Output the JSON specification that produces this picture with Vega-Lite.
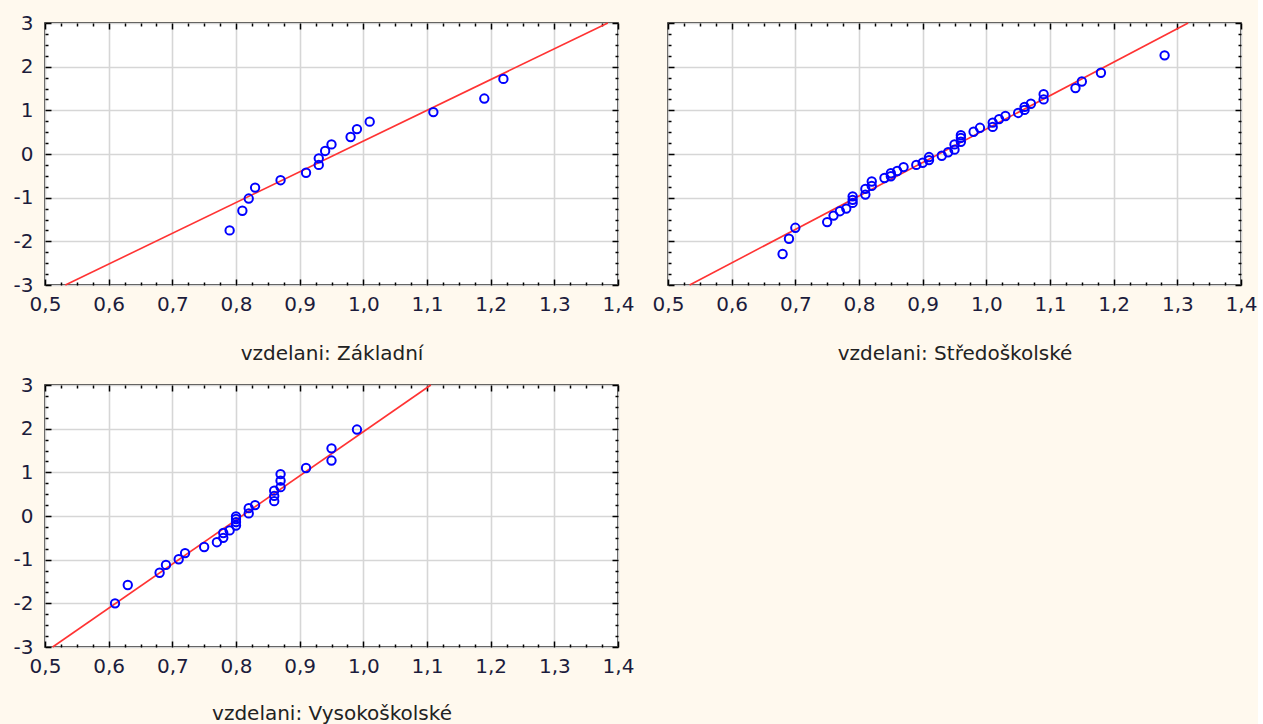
{
  "$schema": "https://vega.github.io/schema/vega-lite/v6.json",
  "background": "#FFF9EE",
  "padding": {"left": 12, "top": 12, "right": 0, "bottom": 0},
  "data": {"values": [
    {"p":"Z","k":"ln","x":0.532,"y":-3},{"p":"Z","k":"ln","x":1.384,"y":3},
    {"p":"S","k":"ln","x":0.534,"y":-3},{"p":"S","k":"ln","x":1.317,"y":3},
    {"p":"V","k":"ln","x":0.512,"y":-3},{"p":"V","k":"ln","x":1.106,"y":3},
    {"p":"Z","k":"pt","x":0.79,"y":-1.75},{"p":"Z","k":"pt","x":0.81,"y":-1.30},{"p":"Z","k":"pt","x":0.82,"y":-1.02},{"p":"Z","k":"pt","x":0.83,"y":-0.77},
    {"p":"Z","k":"pt","x":0.87,"y":-0.60},{"p":"Z","k":"pt","x":0.91,"y":-0.43},{"p":"Z","k":"pt","x":0.93,"y":-0.25},{"p":"Z","k":"pt","x":0.93,"y":-0.10},
    {"p":"Z","k":"pt","x":0.94,"y":0.07},{"p":"Z","k":"pt","x":0.95,"y":0.22},{"p":"Z","k":"pt","x":0.98,"y":0.39},{"p":"Z","k":"pt","x":0.99,"y":0.57},
    {"p":"Z","k":"pt","x":1.01,"y":0.74},{"p":"Z","k":"pt","x":1.11,"y":0.96},{"p":"Z","k":"pt","x":1.19,"y":1.27},{"p":"Z","k":"pt","x":1.22,"y":1.72},
    {"p":"S","k":"pt","x":0.68,"y":-2.29},{"p":"S","k":"pt","x":0.69,"y":-1.94},{"p":"S","k":"pt","x":0.70,"y":-1.69},{"p":"S","k":"pt","x":0.75,"y":-1.56},
    {"p":"S","k":"pt","x":0.76,"y":-1.41},{"p":"S","k":"pt","x":0.77,"y":-1.31},{"p":"S","k":"pt","x":0.78,"y":-1.25},{"p":"S","k":"pt","x":0.79,"y":-1.12},
    {"p":"S","k":"pt","x":0.79,"y":-1.05},{"p":"S","k":"pt","x":0.79,"y":-0.97},{"p":"S","k":"pt","x":0.81,"y":-0.93},{"p":"S","k":"pt","x":0.81,"y":-0.80},
    {"p":"S","k":"pt","x":0.82,"y":-0.73},{"p":"S","k":"pt","x":0.82,"y":-0.63},{"p":"S","k":"pt","x":0.84,"y":-0.55},{"p":"S","k":"pt","x":0.85,"y":-0.51},
    {"p":"S","k":"pt","x":0.85,"y":-0.44},{"p":"S","k":"pt","x":0.86,"y":-0.39},{"p":"S","k":"pt","x":0.87,"y":-0.30},{"p":"S","k":"pt","x":0.89,"y":-0.25},
    {"p":"S","k":"pt","x":0.90,"y":-0.20},{"p":"S","k":"pt","x":0.91,"y":-0.14},{"p":"S","k":"pt","x":0.91,"y":-0.07},{"p":"S","k":"pt","x":0.93,"y":-0.04},
    {"p":"S","k":"pt","x":0.94,"y":0.04},{"p":"S","k":"pt","x":0.95,"y":0.10},{"p":"S","k":"pt","x":0.95,"y":0.22},{"p":"S","k":"pt","x":0.96,"y":0.28},
    {"p":"S","k":"pt","x":0.96,"y":0.37},{"p":"S","k":"pt","x":0.96,"y":0.43},{"p":"S","k":"pt","x":0.98,"y":0.51},{"p":"S","k":"pt","x":0.99,"y":0.60},
    {"p":"S","k":"pt","x":1.01,"y":0.62},{"p":"S","k":"pt","x":1.01,"y":0.72},{"p":"S","k":"pt","x":1.02,"y":0.80},{"p":"S","k":"pt","x":1.03,"y":0.87},
    {"p":"S","k":"pt","x":1.05,"y":0.94},{"p":"S","k":"pt","x":1.06,"y":1.01},{"p":"S","k":"pt","x":1.06,"y":1.08},{"p":"S","k":"pt","x":1.07,"y":1.15},
    {"p":"S","k":"pt","x":1.09,"y":1.25},{"p":"S","k":"pt","x":1.09,"y":1.37},{"p":"S","k":"pt","x":1.14,"y":1.51},{"p":"S","k":"pt","x":1.15,"y":1.66},
    {"p":"S","k":"pt","x":1.18,"y":1.86},{"p":"S","k":"pt","x":1.28,"y":2.26},
    {"p":"V","k":"pt","x":0.61,"y":-2.00},{"p":"V","k":"pt","x":0.63,"y":-1.58},{"p":"V","k":"pt","x":0.68,"y":-1.30},{"p":"V","k":"pt","x":0.69,"y":-1.12},
    {"p":"V","k":"pt","x":0.71,"y":-0.99},{"p":"V","k":"pt","x":0.72,"y":-0.85},{"p":"V","k":"pt","x":0.75,"y":-0.71},{"p":"V","k":"pt","x":0.77,"y":-0.60},
    {"p":"V","k":"pt","x":0.78,"y":-0.50},{"p":"V","k":"pt","x":0.78,"y":-0.39},{"p":"V","k":"pt","x":0.79,"y":-0.33},{"p":"V","k":"pt","x":0.80,"y":-0.22},
    {"p":"V","k":"pt","x":0.80,"y":-0.14},{"p":"V","k":"pt","x":0.80,"y":-0.07},{"p":"V","k":"pt","x":0.80,"y":-0.01},{"p":"V","k":"pt","x":0.82,"y":0.06},
    {"p":"V","k":"pt","x":0.82,"y":0.18},{"p":"V","k":"pt","x":0.83,"y":0.25},{"p":"V","k":"pt","x":0.86,"y":0.34},{"p":"V","k":"pt","x":0.86,"y":0.46},
    {"p":"V","k":"pt","x":0.86,"y":0.58},{"p":"V","k":"pt","x":0.87,"y":0.66},{"p":"V","k":"pt","x":0.87,"y":0.81},{"p":"V","k":"pt","x":0.87,"y":0.96},
    {"p":"V","k":"pt","x":0.91,"y":1.10},{"p":"V","k":"pt","x":0.95,"y":1.27},{"p":"V","k":"pt","x":0.95,"y":1.55},{"p":"V","k":"pt","x":0.99,"y":1.98}
  ]},
  "spacing": 10,
  "vconcat": [
    {
      "spacing": 16,
      "hconcat": [
        {
          "width": 573, "height": 262,
          "transform": [{"filter": "datum.p == 'Z'"}],
          "layer": [
            {
              "transform": [{"filter": "datum.k == 'ln'"}],
              "mark": {"type": "line", "color": "#ff3333", "strokeWidth": 1.6},
              "encoding": {
                "x": {"field": "x", "type": "quantitative", "scale": {"domain": [0.5, 1.4], "nice": false, "zero": false},
                  "axis": {"orient": "top", "values": [0.5,0.525,0.55,0.575,0.6,0.625,0.65,0.675,0.7,0.725,0.75,0.775,0.8,0.825,0.85,0.875,0.9,0.925,0.95,0.975,1,1.025,1.05,1.075,1.1,1.125,1.15,1.175,1.2,1.225,1.25,1.275,1.3,1.325,1.35,1.375,1.4], "labels": false, "grid": false, "title": null,
                    "tickSize": {"condition": {"test": "abs(datum.value*10-round(datum.value*10))<0.01", "value": -6}, "value": -3}}},
                "y": {"field": "y", "type": "quantitative", "scale": {"domain": [-3, 3], "nice": false, "zero": false},
                  "axis": {"orient": "right", "values": [-3,-2.75,-2.5,-2.25,-2,-1.75,-1.5,-1.25,-1,-0.75,-0.5,-0.25,0,0.25,0.5,0.75,1,1.25,1.5,1.75,2,2.25,2.5,2.75,3], "labels": false, "grid": false, "title": null,
                    "tickSize": {"condition": {"test": "abs(datum.value-round(datum.value))<0.01", "value": -6}, "value": -3}}}
              }
            },
            {
              "transform": [{"filter": "datum.k == 'pt'"}],
              "mark": {"type": "point", "shape": "circle", "filled": false, "color": "#0000ff", "strokeWidth": 2, "size": 70, "opacity": 1},
              "encoding": {
                "x": {"field": "x", "type": "quantitative", "scale": {"domain": [0.5, 1.4], "nice": false, "zero": false},
                  "axis": {"orient": "bottom", "values": [0.5,0.525,0.55,0.575,0.6,0.625,0.65,0.675,0.7,0.725,0.75,0.775,0.8,0.825,0.85,0.875,0.9,0.925,0.95,0.975,1,1.025,1.05,1.075,1.1,1.125,1.15,1.175,1.2,1.225,1.25,1.275,1.3,1.325,1.35,1.375,1.4],
                    "labelExpr": "abs(datum.value*10-round(datum.value*10))<0.01 ? replace(format(datum.value, '.1f'), '.', ',') : ''",
                    "grid": true, "gridOpacity": {"condition": {"test": "abs(datum.value*10-round(datum.value*10))<0.01", "value": 1}, "value": 0},
                    "tickSize": {"condition": {"test": "abs(datum.value*10-round(datum.value*10))<0.01", "value": -6}, "value": -3},
                    "labelPadding": 15, "title": "vzdelani: Základní", "titlePadding": 26}},
                "y": {"field": "y", "type": "quantitative", "scale": {"domain": [-3, 3], "nice": false, "zero": false},
                  "axis": {"orient": "left", "values": [-3,-2.75,-2.5,-2.25,-2,-1.75,-1.5,-1.25,-1,-0.75,-0.5,-0.25,0,0.25,0.5,0.75,1,1.25,1.5,1.75,2,2.25,2.5,2.75,3],
                    "labelExpr": "abs(datum.value-round(datum.value))<0.01 ? '' + round(datum.value) : ''",
                    "grid": true, "gridOpacity": {"condition": {"test": "abs(datum.value-round(datum.value))<0.01", "value": 1}, "value": 0},
                    "tickSize": {"condition": {"test": "abs(datum.value-round(datum.value))<0.01", "value": -6}, "value": -3},
                    "labelPadding": 18, "title": null}}
              }
            }
          ],
          "resolve": {"axis": {"x": "independent", "y": "independent"}}
        },
        {
          "width": 573, "height": 262,
          "transform": [{"filter": "datum.p == 'S'"}],
          "layer": [
            {
              "transform": [{"filter": "datum.k == 'ln'"}],
              "mark": {"type": "line", "color": "#ff3333", "strokeWidth": 1.6},
              "encoding": {
                "x": {"field": "x", "type": "quantitative", "scale": {"domain": [0.5, 1.4], "nice": false, "zero": false},
                  "axis": {"orient": "top", "values": [0.5,0.525,0.55,0.575,0.6,0.625,0.65,0.675,0.7,0.725,0.75,0.775,0.8,0.825,0.85,0.875,0.9,0.925,0.95,0.975,1,1.025,1.05,1.075,1.1,1.125,1.15,1.175,1.2,1.225,1.25,1.275,1.3,1.325,1.35,1.375,1.4], "labels": false, "grid": false, "title": null,
                    "tickSize": {"condition": {"test": "abs(datum.value*10-round(datum.value*10))<0.01", "value": -6}, "value": -3}}},
                "y": {"field": "y", "type": "quantitative", "scale": {"domain": [-3, 3], "nice": false, "zero": false},
                  "axis": {"orient": "right", "values": [-3,-2.75,-2.5,-2.25,-2,-1.75,-1.5,-1.25,-1,-0.75,-0.5,-0.25,0,0.25,0.5,0.75,1,1.25,1.5,1.75,2,2.25,2.5,2.75,3], "labels": false, "grid": false, "title": null,
                    "tickSize": {"condition": {"test": "abs(datum.value-round(datum.value))<0.01", "value": -6}, "value": -3}}}
              }
            },
            {
              "transform": [{"filter": "datum.k == 'pt'"}],
              "mark": {"type": "point", "shape": "circle", "filled": false, "color": "#0000ff", "strokeWidth": 2, "size": 70, "opacity": 1},
              "encoding": {
                "x": {"field": "x", "type": "quantitative", "scale": {"domain": [0.5, 1.4], "nice": false, "zero": false},
                  "axis": {"orient": "bottom", "values": [0.5,0.525,0.55,0.575,0.6,0.625,0.65,0.675,0.7,0.725,0.75,0.775,0.8,0.825,0.85,0.875,0.9,0.925,0.95,0.975,1,1.025,1.05,1.075,1.1,1.125,1.15,1.175,1.2,1.225,1.25,1.275,1.3,1.325,1.35,1.375,1.4],
                    "labelExpr": "abs(datum.value*10-round(datum.value*10))<0.01 ? replace(format(datum.value, '.1f'), '.', ',') : ''",
                    "grid": true, "gridOpacity": {"condition": {"test": "abs(datum.value*10-round(datum.value*10))<0.01", "value": 1}, "value": 0},
                    "tickSize": {"condition": {"test": "abs(datum.value*10-round(datum.value*10))<0.01", "value": -6}, "value": -3},
                    "labelPadding": 15, "title": "vzdelani: Středoškolské", "titlePadding": 26}},
                "y": {"field": "y", "type": "quantitative", "scale": {"domain": [-3, 3], "nice": false, "zero": false},
                  "axis": {"orient": "left", "values": [-3,-2.75,-2.5,-2.25,-2,-1.75,-1.5,-1.25,-1,-0.75,-0.5,-0.25,0,0.25,0.5,0.75,1,1.25,1.5,1.75,2,2.25,2.5,2.75,3],
                    "labels": false,
                    "grid": true, "gridOpacity": {"condition": {"test": "abs(datum.value-round(datum.value))<0.01", "value": 1}, "value": 0},
                    "tickSize": {"condition": {"test": "abs(datum.value-round(datum.value))<0.01", "value": -6}, "value": -3},
                    "title": null}}
              }
            }
          ],
          "resolve": {"axis": {"x": "independent", "y": "independent"}}
        }
      ]
    },
    {
      "width": 573, "height": 262,
      "transform": [{"filter": "datum.p == 'V'"}],
      "layer": [
        {
          "transform": [{"filter": "datum.k == 'ln'"}],
          "mark": {"type": "line", "color": "#ff3333", "strokeWidth": 1.6},
          "encoding": {
            "x": {"field": "x", "type": "quantitative", "scale": {"domain": [0.5, 1.4], "nice": false, "zero": false},
              "axis": {"orient": "top", "values": [0.5,0.525,0.55,0.575,0.6,0.625,0.65,0.675,0.7,0.725,0.75,0.775,0.8,0.825,0.85,0.875,0.9,0.925,0.95,0.975,1,1.025,1.05,1.075,1.1,1.125,1.15,1.175,1.2,1.225,1.25,1.275,1.3,1.325,1.35,1.375,1.4], "labels": false, "grid": false, "title": null,
                "tickSize": {"condition": {"test": "abs(datum.value*10-round(datum.value*10))<0.01", "value": -6}, "value": -3}}},
            "y": {"field": "y", "type": "quantitative", "scale": {"domain": [-3, 3], "nice": false, "zero": false},
              "axis": {"orient": "right", "values": [-3,-2.75,-2.5,-2.25,-2,-1.75,-1.5,-1.25,-1,-0.75,-0.5,-0.25,0,0.25,0.5,0.75,1,1.25,1.5,1.75,2,2.25,2.5,2.75,3], "labels": false, "grid": false, "title": null,
                "tickSize": {"condition": {"test": "abs(datum.value-round(datum.value))<0.01", "value": -6}, "value": -3}}}
          }
        },
        {
          "transform": [{"filter": "datum.k == 'pt'"}],
          "mark": {"type": "point", "shape": "circle", "filled": false, "color": "#0000ff", "strokeWidth": 2, "size": 70, "opacity": 1},
          "encoding": {
            "x": {"field": "x", "type": "quantitative", "scale": {"domain": [0.5, 1.4], "nice": false, "zero": false},
              "axis": {"orient": "bottom", "values": [0.5,0.525,0.55,0.575,0.6,0.625,0.65,0.675,0.7,0.725,0.75,0.775,0.8,0.825,0.85,0.875,0.9,0.925,0.95,0.975,1,1.025,1.05,1.075,1.1,1.125,1.15,1.175,1.2,1.225,1.25,1.275,1.3,1.325,1.35,1.375,1.4],
                "labelExpr": "abs(datum.value*10-round(datum.value*10))<0.01 ? replace(format(datum.value, '.1f'), '.', ',') : ''",
                "grid": true, "gridOpacity": {"condition": {"test": "abs(datum.value*10-round(datum.value*10))<0.01", "value": 1}, "value": 0},
                "tickSize": {"condition": {"test": "abs(datum.value*10-round(datum.value*10))<0.01", "value": -6}, "value": -3},
                "labelPadding": 15, "title": "vzdelani: Vysokoškolské", "titlePadding": 24}},
            "y": {"field": "y", "type": "quantitative", "scale": {"domain": [-3, 3], "nice": false, "zero": false},
              "axis": {"orient": "left", "values": [-3,-2.75,-2.5,-2.25,-2,-1.75,-1.5,-1.25,-1,-0.75,-0.5,-0.25,0,0.25,0.5,0.75,1,1.25,1.5,1.75,2,2.25,2.5,2.75,3],
                "labelExpr": "abs(datum.value-round(datum.value))<0.01 ? '' + round(datum.value) : ''",
                "grid": true, "gridOpacity": {"condition": {"test": "abs(datum.value-round(datum.value))<0.01", "value": 1}, "value": 0},
                "tickSize": {"condition": {"test": "abs(datum.value-round(datum.value))<0.01", "value": -6}, "value": -3},
                "labelPadding": 18, "title": null}}
          }
        }
      ],
      "resolve": {"axis": {"x": "independent", "y": "independent"}}
    }
  ],
  "config": {
    "view": {"fill": "white", "stroke": "#000000", "strokeWidth": 1.5},
    "axis": {
      "domain": false,
      "labelFont": "DejaVu Sans", "labelFontSize": 20, "labelColor": "#1c1c3c",
      "labelFlush": false, "labelOverlap": false,
      "tickColor": "#000000", "tickWidth": 1.5,
      "gridColor": "#d6d6d6", "gridWidth": 1.6,
      "titleFont": "DejaVu Sans", "titleFontSize": 20, "titleFontWeight": "normal", "titleColor": "#222222"
    }
  }
}
